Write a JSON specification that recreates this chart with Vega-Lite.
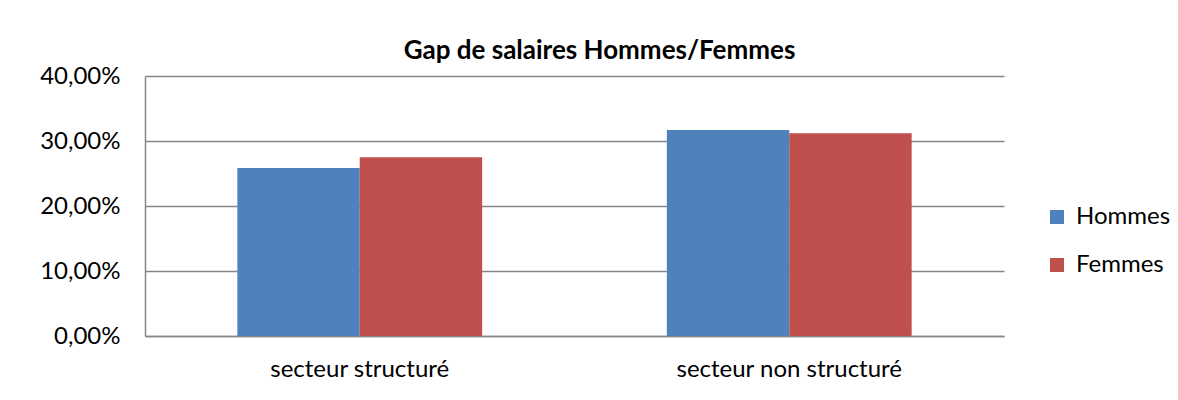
{
  "$schema": "https://vega.github.io/schema/vega-lite/v6.json",
  "autosize": "none",
  "width": 859,
  "height": 260,
  "padding": {"left": 145, "top": 76, "right": 174, "bottom": 64},
  "background": "white",
  "config": {
    "locale": {"number": {"decimal": ",", "thousands": " ", "grouping": [3], "currency": ["", " €"]}},
    "view": {"stroke": null},
    "font": "Lato"
  },
  "title": {
    "text": "Gap de salaires Hommes/Femmes",
    "font": "Lato",
    "fontSize": 26,
    "fontWeight": "bold",
    "color": "#000000",
    "anchor": "middle",
    "dx": 25,
    "offset": 0
  },
  "data": {
    "values": [
      {"secteur": "secteur structuré", "sexe": "Hommes", "gap": 0.2586},
      {"secteur": "secteur structuré", "sexe": "Femmes", "gap": 0.2750},
      {"secteur": "secteur non structuré", "sexe": "Hommes", "gap": 0.3170},
      {"secteur": "secteur non structuré", "sexe": "Femmes", "gap": 0.3120}
    ]
  },
  "mark": {"type": "bar"},
  "encoding": {
    "x": {
      "field": "secteur",
      "type": "nominal",
      "sort": ["secteur structuré", "secteur non structuré"],
      "scale": {"paddingInner": 0.43, "paddingOuter": 0.215},
      "axis": {
        "title": null,
        "labelAngle": 0,
        "labelFont": "Lato",
        "labelFontSize": 24,
        "labelColor": "#000000",
        "labelPadding": 21,
        "labelLimit": 0,
        "labelOverlap": false,
        "ticks": false,
        "domainColor": "#868686",
        "domainWidth": 1.5
      }
    },
    "xOffset": {"field": "sexe", "type": "nominal", "sort": ["Hommes", "Femmes"], "scale": {"paddingInner": 0, "paddingOuter": 0}},
    "y": {
      "field": "gap",
      "type": "quantitative",
      "scale": {"domain": [0, 0.4], "nice": false},
      "axis": {
        "title": null,
        "format": ".2%",
        "values": [0, 0.1, 0.2, 0.3, 0.4],
        "labelFont": "Lato",
        "labelFontSize": 24,
        "labelColor": "#000000",
        "labelPadding": 25,
        "ticks": false,
        "domainColor": "#868686",
        "domainWidth": 1.5,
        "gridColor": "#868686",
        "gridWidth": 1.5
      }
    },
    "color": {
      "field": "sexe",
      "type": "nominal",
      "sort": ["Hommes", "Femmes"],
      "scale": {"domain": ["Hommes", "Femmes"], "range": ["#4F81BD", "#C0504D"]},
      "legend": {
        "title": null,
        "orient": "none",
        "legendX": 900,
        "legendY": 129,
        "symbolType": "square",
        "symbolSize": 196,
        "symbolStrokeWidth": 0,
        "labelFont": "Lato",
        "labelFontSize": 24,
        "labelColor": "#000000",
        "rowPadding": 24,
        "labelOffset": 7
      }
    }
  }
}
